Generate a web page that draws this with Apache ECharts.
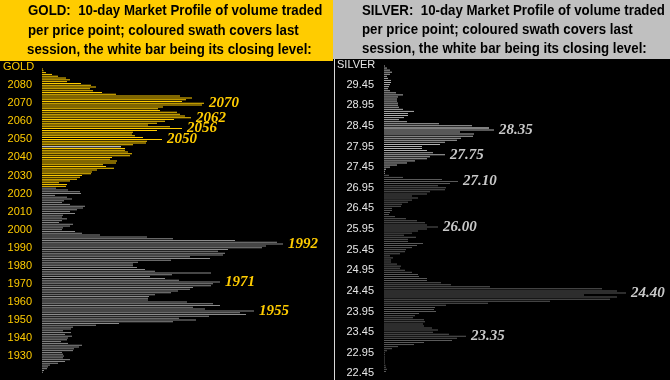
<!DOCTYPE html>
<html><head><meta charset="utf-8">
<script src="https://cdn.jsdelivr.net/npm/echarts@6/dist/echarts.min.js"></script>
<style>html,body{margin:0;padding:0;background:#000}#c{width:670px;height:380px}</style>
</head><body><div id="c"></div><script>
// ---------- GOLD ($1 price points, top to bottom) ----------
const goldPrices = [
2089,2088,2087,2086,2085,2084,2083,2082,2081,2080,
2079,2078,2077,2076,2075,2074,2073,2072,2071,2070,
2069,2068,2067,2066,2065,2064,2063,2062,2061,2060,
2059,2058,2057,2056,2055,2054,2053,2052,2051,2050,
2049,2048,2047,2046,2045,2044,2043,2042,2041,2040,
2039,2038,2037,2036,2035,2034,2033,2032,2031,2030,
2029,2028,2027,2026,2025,2024,2023,2022,2021,2020,
2019,2018,2017,2016,2015,2014,2013,2012,2011,2010,
2009,2008,2007,2006,2005,2004,2003,2002,2001,2000,
1999,1998,1997,1996,1995,1994,1993,1992,1991,1990,
1989,1988,1987,1986,1985,1984,1983,1982,1981,1980,
1979,1978,1977,1976,1975,1974,1973,1972,1971,1970,
1969,1968,1967,1966,1965,1964,1963,1962,1961,1960,
1959,1958,1957,1956,1955,1954,1953,1952,1951,1950,
1949,1948,1947,1946,1945,1944,1943,1942,1941,1940,
1939,1938,1937,1936,1935,1934,1933,1932,1931,1930,
1929,1928,1927,1926,1925,1924,1923,1922,1921];
const goldVolumes = [
1,1.5,4,10,16,24,28,25,39,49,
54,48,51,60,74,138,150,144,140,162,
160,121,116,118,135,138,143,149,132,123,
115,106,128,140,115,91,90,93,101,120,
105,104,91,79,83,83,86,90,88,70,
68,75,74,61,64,72,55,50,49,40,
38,35,28,17,25,24,14,26,38,39,
13,25,30,22,20,28,43,41,35,28,
33,21,20,25,20,17,31,28,21,20,
33,40,58,105,131,193,235,241,224,220,
186,176,183,181,148,168,129,96,91,91,
95,103,113,169,130,108,123,137,178,171,
169,151,148,136,129,113,107,106,106,145,
171,178,151,163,212,198,204,167,137,154,
131,77,54,31,29,21,29,23,30,26,
25,19,26,40,37,32,31,20,21,22,
21,28,23,16,8,6,5,2,1];
const goldAxisTicks = [2080,2070,2060,2050,2040,2030,2020,2010,2000,1990,1980,1970,1960,1950,1940,1930];
const goldSessionLow = 2024;   // coloured swath: last session
const goldClose = 2046;        // white bar
const goldNotes = [2070,2062,2056,2050,1992,1971,1955];

// ---------- SILVER ($0.05 price points, top to bottom) ----------
const silverPrices = [
"29.90","29.85","29.80","29.75","29.70","29.65","29.60","29.55","29.50","29.45",
"29.40","29.35","29.30","29.25","29.20","29.15","29.10","29.05","29.00","28.95",
"28.90","28.85","28.80","28.75","28.70","28.65","28.60","28.55","28.50","28.45",
"28.40","28.35","28.30","28.25","28.20","28.15","28.10","28.05","28.00","27.95",
"27.90","27.85","27.80","27.75","27.70","27.65","27.60","27.55","27.50","27.45",
"27.40","27.35","27.30","27.25","27.20","27.15","27.10","27.05","27.00","26.95",
"26.90","26.85","26.80","26.75","26.70","26.65","26.60","26.55","26.50","26.45",
"26.40","26.35","26.30","26.25","26.20","26.15","26.10","26.05","26.00","25.95",
"25.90","25.85","25.80","25.75","25.70","25.65","25.60","25.55","25.50","25.45",
"25.40","25.35","25.30","25.25","25.20","25.15","25.10","25.05","25.00","24.95",
"24.90","24.85","24.80","24.75","24.70","24.65","24.60","24.55","24.50","24.45",
"24.40","24.35","24.30","24.25","24.20","24.15","24.10","24.05","24.00","23.95",
"23.90","23.85","23.80","23.75","23.70","23.65","23.60","23.55","23.50","23.45",
"23.40","23.35","23.30","23.25","23.20","23.15","23.10","23.05","23.00","22.95",
"22.90","22.85","22.80","22.75","22.70","22.65","22.60","22.55","22.50","22.45"];
const silverVolumes = [
1,3,6,8,6,3,4,7,7,6,
5,4,6,12,19,14,13,13,14,14,
15,19,30,24,24,20,15,23,55,88,
105,110,76,90,89,77,73,61,56,38,
38,43,49,61,46,43,31,23,13,6,
2,1,1,5,19,58,74,66,54,62,
61,46,43,28,34,28,24,18,17,8,
8,6,5,11,22,33,41,43,54,43,
34,28,20,32,24,24,39,33,28,22,
21,16,6,9,7,7,13,17,16,21,
28,34,35,43,43,57,67,106,218,233,
242,200,233,226,166,104,62,51,50,52,
35,31,29,40,41,39,40,48,54,49,
65,82,73,68,40,30,14,8,3,1,
1,1,1,1,1,1.5,2,3,2,0];
const silverAxisTicks = ["29.45","28.95","28.45","27.95","27.45","26.95","26.45","25.95","25.45","24.95","24.45","23.95","23.45","22.95","22.45"];
const silverSessionLow = 27.30;
const silverClose = "28.40";
const silverNotes = ["28.35","27.75","27.10","26.00","24.40","23.35"];

const noteFont = {fontFamily:'"Liberation Serif", serif', fontWeight:'bold', fontStyle:'italic', fontSize:15};

function headerText(x, y, t) {
  return {type:'text', x:x, y:y, scaleX:0.885, silent:true,
    style:{text:t, font:'bold 15px "Liberation Sans", Arial, sans-serif', fill:'#000',
           verticalAlign:'middle', textVerticalAlign:'middle'}};
}

const chart = echarts.init(document.getElementById('c'), null, {renderer:'canvas'});
chart.setOption({
  animation:false,
  backgroundColor:'#000',
  graphic:[
    {type:'rect', shape:{x:0,y:0,width:333,height:61}, style:{fill:'#ffcc00'}, silent:true},
    {type:'rect', shape:{x:333,y:0,width:337,height:59}, style:{fill:'#c0c0c0'}, silent:true},
    {type:'rect', shape:{x:334,y:59,width:1,height:321}, style:{fill:'#d8d8d8'}, silent:true},
    headerText(28, 11, 'GOLD:  10-day Market Profile of volume traded'),
    headerText(28, 31, 'per price point; coloured swath covers last'),
    headerText(27, 50, 'session, the white bar being its closing level:'),
    headerText(362, 11, 'SILVER:  10-day Market Profile of volume traded'),
    headerText(362, 30, 'per price point; coloured swath covers last'),
    headerText(362, 49, 'session, the white bar being its closing level:')
  ],
  title:[
    {text:'GOLD', left:3, top:61, padding:0, textStyle:{color:'#ffcc00', fontSize:11, fontWeight:'normal', fontFamily:'"Liberation Sans", Arial'}},
    {text:'SILVER', left:337, top:59, padding:0, textStyle:{color:'#e6e6e6', fontSize:11, fontWeight:'normal', fontFamily:'"Liberation Sans", Arial'}}
  ],
  grid:[
    {left:42, top:68.1, width:291, height:305.1},
    {left:384, top:64.97, width:286, height:309.5}
  ],
  xAxis:[
    {type:'value', gridIndex:0, min:0, max:291, show:false},
    {type:'value', gridIndex:1, min:0, max:286, show:false}
  ],
  yAxis:[
    {type:'category', gridIndex:0, inverse:true, data:goldPrices.map(String),
     axisLine:{show:false}, axisTick:{show:false}, splitLine:{show:false},
     axisLabel:{interval:(i,v)=>goldAxisTicks.includes(Number(v)), color:'#ffcc00', fontSize:11,
                fontFamily:'"Liberation Sans", Arial', margin:10}},
    {type:'category', gridIndex:1, inverse:true, data:silverPrices,
     axisLine:{show:false}, axisTick:{show:false}, splitLine:{show:false},
     axisLabel:{interval:(i,v)=>silverAxisTicks.includes(v), color:'#e6e6e6', fontSize:11,
                fontFamily:'"Liberation Sans", Arial', margin:10}}
  ],
  series:[
    {type:'bar', xAxisIndex:0, yAxisIndex:0, barWidth:1, silent:true,
     data:goldVolumes.map((v,i)=>{
       const p = goldPrices[i]; const o = {value:v};
       if (goldNotes.includes(p)) o.label = {show:true, formatter:String(p)};
       return o;
     }),
     itemStyle:{color:(p)=>{
       const pr = Number(p.name);
       if (pr === goldClose) return '#ffffff';
       return pr >= goldSessionLow ? '#ffcc00' : '#8c8c8c';
     }},
     label:Object.assign({show:false, position:'right', distance:5, color:'#ffcc00'}, noteFont)
    },
    {type:'bar', xAxisIndex:1, yAxisIndex:1, barWidth:1, silent:true,
     data:silverVolumes.map((v,i)=>{
       const p = silverPrices[i]; const o = {value:v};
       if (silverNotes.includes(p)) o.label = {show:true, formatter:p};
       return o;
     }),
     itemStyle:{color:(p)=>{
       if (p.name === silverClose) return '#ffffff';
       return Number(p.name) >= silverSessionLow - 1e-9 ? '#b0b0b0' : '#5a5a5a';
     }},
     label:Object.assign({show:false, position:'right', distance:5, color:'#c8c8c8'}, noteFont)
    }
  ]
});
</script></body></html>
